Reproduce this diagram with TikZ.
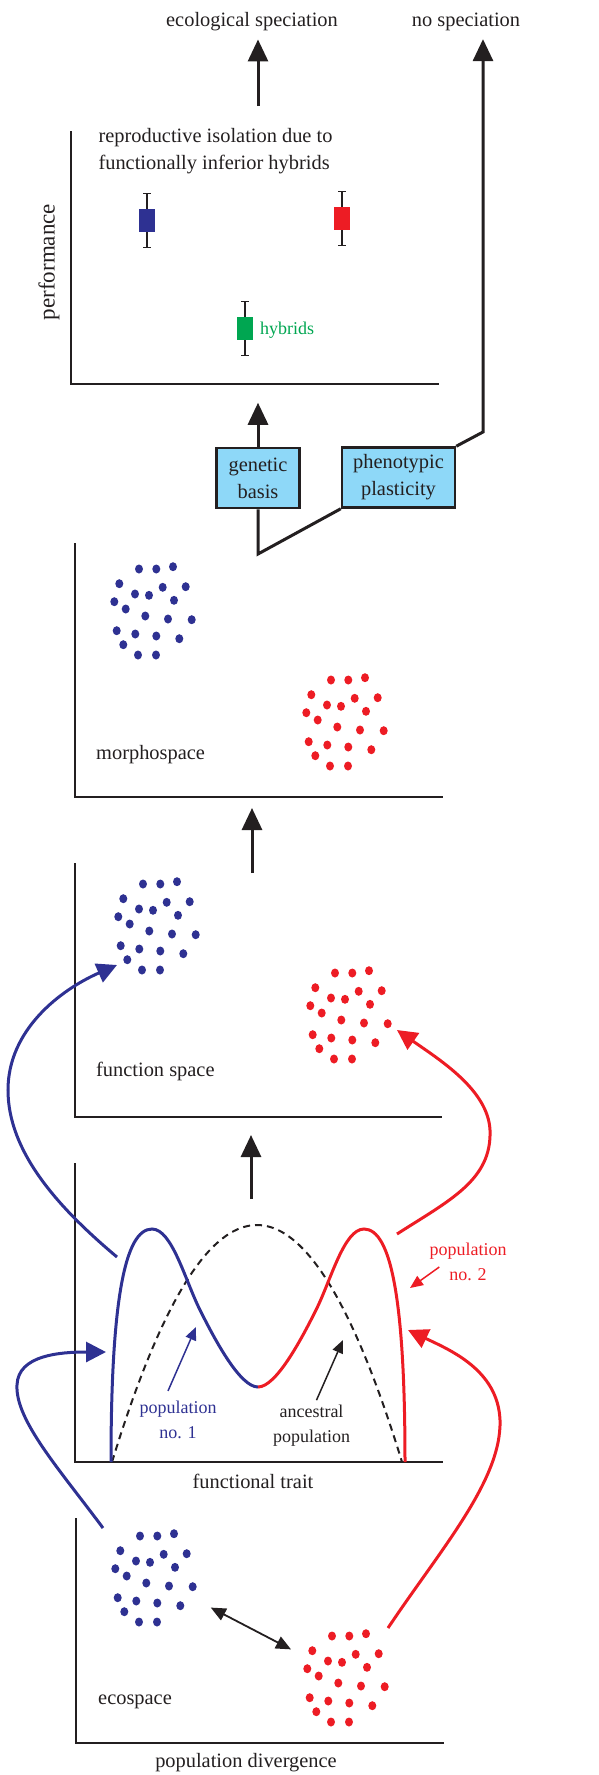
\documentclass[tikz,border=0pt]{standalone}
\usepackage{fontspec}
\setmainfont{Liberation Serif}
\usetikzlibrary{arrows.meta}
\definecolor{popblue}{HTML}{2E3192}
\definecolor{popred}{HTML}{ED1C24}
\definecolor{hybgreen}{HTML}{00A651}
\definecolor{boxblue}{HTML}{8ED8F8}
\definecolor{ink}{HTML}{231F20}
\tikzset{
  axis/.style={line width=2.2pt, ink},
  bigarrow/.style={line width=3pt, ink, -{Triangle[width=20pt,length=22pt]}},
  flow/.style={line width=3pt, -{Triangle[width=20pt,length=20pt]}},
  thinarrow/.style={line width=1.5pt, -{Triangle[width=11pt,length=13pt]}},
  lbl/.style={font=\fontsize{20.4}{27}\selectfont, text=ink, inner sep=0pt},
  smalllbl/.style={font=\fontsize{18}{25}\selectfont, inner sep=0pt, align=center},
  basisbox/.style={draw=ink, line width=2.5pt, fill=boxblue, lbl, align=center, minimum height=60pt},
  errbar/.style={line width=1.1pt, ink},
}
% cloud of dots round a centre
\newcommand{\dotcloud}[3]{%
  \coordinate (#1) at (#2);
  \begin{scope}[shift={(#2)}]
    \foreach \dx/\dy in {-14/-42, 3.3/-42, 20/-44.3, -33.7/-27.3, 9.7/-23.7, 32.7/-24.3,
      -18/-17, -4/-15.7, -38.7/-9.3, 21/-10.7, -27.3/-2, -7.7/5, 15/8, 38.7/8.7,
      -36.3/19.7, -17.7/23, 3.3/25, 26.3/27.7, -29.7/33.7, -15/44, 3/44}
      \fill[#3] (\dx,\dy) circle[x radius=4pt, y radius=4.5pt];
  \end{scope}}

\begin{document}
\begin{tikzpicture}[x=1pt, y=-1pt]
  \useasboundingbox (0,0) rectangle (598,1775);
  % performance
  \node[lbl] (ecospec) at (252,22) {ecological speciation};
  \node[lbl] (nospec) at (466,22) {no speciation};
  \draw[axis] (71,131) -- (71,384) -- (439,384);
  \node[lbl, font=\fontsize{23}{27}\selectfont, rotate=90] (perflbl) at (49,262) {performance};
  \node[lbl, align=left] (isolation) at (215.5,151) {reproductive isolation due to\\functionally inferior hybrids};
  \foreach \bx/\by/\bc in {147/220.5/popblue, 342/218.5/popred, 245/328.5/hybgreen} {
    \draw[errbar] (\bx,\by-27) -- (\bx,\by+27);
    \draw[errbar] (\bx-3.7,\by-27) -- (\bx+3.7,\by-27);
    \draw[errbar] (\bx-3.7,\by+27) -- (\bx+3.7,\by+27);
    \fill[\bc] (\bx-8,\by-11.5) rectangle (\bx+8,\by+11.5);
  }
  \node[lbl, font=\fontsize{18}{22}\selectfont, text=hybgreen, anchor=west] (hyb) at (260,330) {hybrids};
  \coordinate (perftop) at (258,106);
  \draw[bigarrow, shorten >=8pt] (perftop) -- (perftop |- ecospec.south);

  % genetic basis or plasticity
  \node[basisbox, minimum width=83pt] (genetic) at (258,478) {genetic\\basis};
  \node[basisbox, minimum width=113pt] (plastic) at (398.5,477.5) {phenotypic\\plasticity};
  \coordinate (fork) at (258,554);
  \coordinate (bend) at (483,432);
  \draw[line width=3pt, ink] (genetic.south) -- (fork) -- (plastic.south west);
  \draw[bigarrow, shorten >=8pt] (plastic.north east) -- (bend) -- (bend |- nospec.south);
  \draw[bigarrow] (genetic.north) -- ++(0,-44);

  % morphospace
  \draw[axis] (75,543) -- (75,797) -- (443,797);
  \node[lbl, anchor=west] (morph) at (96,755) {morphospace};
  \dotcloud{morphblue}{153,611}{popblue}
  \dotcloud{morphred}{345,722}{popred}
  \coordinate (funcup) at (252,873);
  \coordinate (morphbase) at (252,808);
  \draw[bigarrow] (funcup) -- (morphbase);

  % function space
  \draw[axis] (75,863) -- (75,1117) -- (442,1117);
  \node[lbl, anchor=west] (funcspace) at (96,1071) {function space};
  \dotcloud{funcblue}{157,926}{popblue}
  \dotcloud{funcred}{349,1015}{popred}
  \coordinate (traitup) at (251,1199);
  \coordinate (funcbase) at (251,1135);
  \draw[bigarrow] (traitup) -- (funcbase);

  % functional trait
  \draw[axis] (75,1163) -- (75,1462) -- (443,1462);
  \node[lbl] (trait) at (253,1481) {functional trait};
  \draw[ink, line width=2pt, dash pattern=on 7pt off 5pt] plot[domain=112:402, samples=80] (\x, {1462-237*(1-((\x-257)/145)^2)});
  \draw[popblue, line width=3pt] (111,1462) .. controls (111,1300) and (125,1229) .. (152,1229)
    .. controls (172,1229) and (185,1280) .. (200,1310) .. controls (215,1340) and (240,1387) .. (258,1387);
  \draw[popred, line width=3pt] (258,1387) .. controls (276,1387) and (301,1340) .. (316,1310)
    .. controls (331,1280) and (344,1229) .. (364,1229) .. controls (391,1229) and (405,1300) .. (405,1462);
  \node[smalllbl, text=popblue] (pop1) at (178,1420) {population\\no. 1};
  \node[smalllbl, text=ink] (ancestral) at (311.5,1426) {ancestral\\population};
  \node[smalllbl, text=popred] (pop2) at (468,1262) {population\\no. 2};
  \coordinate (pop1tip) at (196,1327);
  \coordinate (anctip) at (343,1340);
  \coordinate (pop2tip) at (410,1288);
  \draw[thinarrow, popblue] ([xshift=-10pt,yshift=10pt]pop1.north) -- (pop1tip);
  \draw[thinarrow, ink] ([xshift=5pt,yshift=5pt]ancestral.north) -- (anctip);
  \draw[thinarrow, popred] ([xshift=10pt,yshift=-5pt]pop2.west) -- (pop2tip);

  % ecospace
  \draw[axis] (76,1518) -- (76,1743) -- (444,1743);
  \node[lbl, anchor=west] (ecospace) at (98,1702) {ecospace};
  \node[lbl] (divergence) at (246,1763) {population divergence};
  \dotcloud{ecoblue}{154,1578}{popblue}
  \dotcloud{ecored}{346,1678}{popred}
  \draw[line width=1.8pt, ink, {Triangle[width=13pt,length=15pt]}-{Triangle[width=13pt,length=15pt]}, shorten <=64pt, shorten >=62pt] (ecoblue) -- (ecored);

  % selection arrows
  \coordinate (blueup0) at (117,1257);
  \coordinate (blueup1) at (117,965);
  \coordinate (redup0) at (397,1234);
  \coordinate (redup1) at (397,1030);
  \coordinate (bluelo0) at (103,1528);
  \coordinate (bluelo1) at (106,1352);
  \coordinate (redlo0) at (388,1628);
  \coordinate (redlo1) at (408,1330);
  \draw[flow, popblue] (blueup0) .. controls (55,1205) and (8,1150) .. (8,1090) .. controls (8,1030) and (60,990) .. (blueup1);
  \draw[flow, popred] (redup0) .. controls (450,1200) and (492,1180) .. (490,1130) .. controls (488,1090) and (440,1060) .. (redup1);
  \draw[flow, popblue] (bluelo0) .. controls (60,1470) and (15,1420) .. (17,1385) .. controls (18,1355) and (60,1352) .. (bluelo1);
  \draw[flow, popred] (redlo0) .. controls (440,1550) and (502,1480) .. (500,1420) .. controls (498,1370) and (450,1350) .. (redlo1);
\end{tikzpicture}
\end{document}
